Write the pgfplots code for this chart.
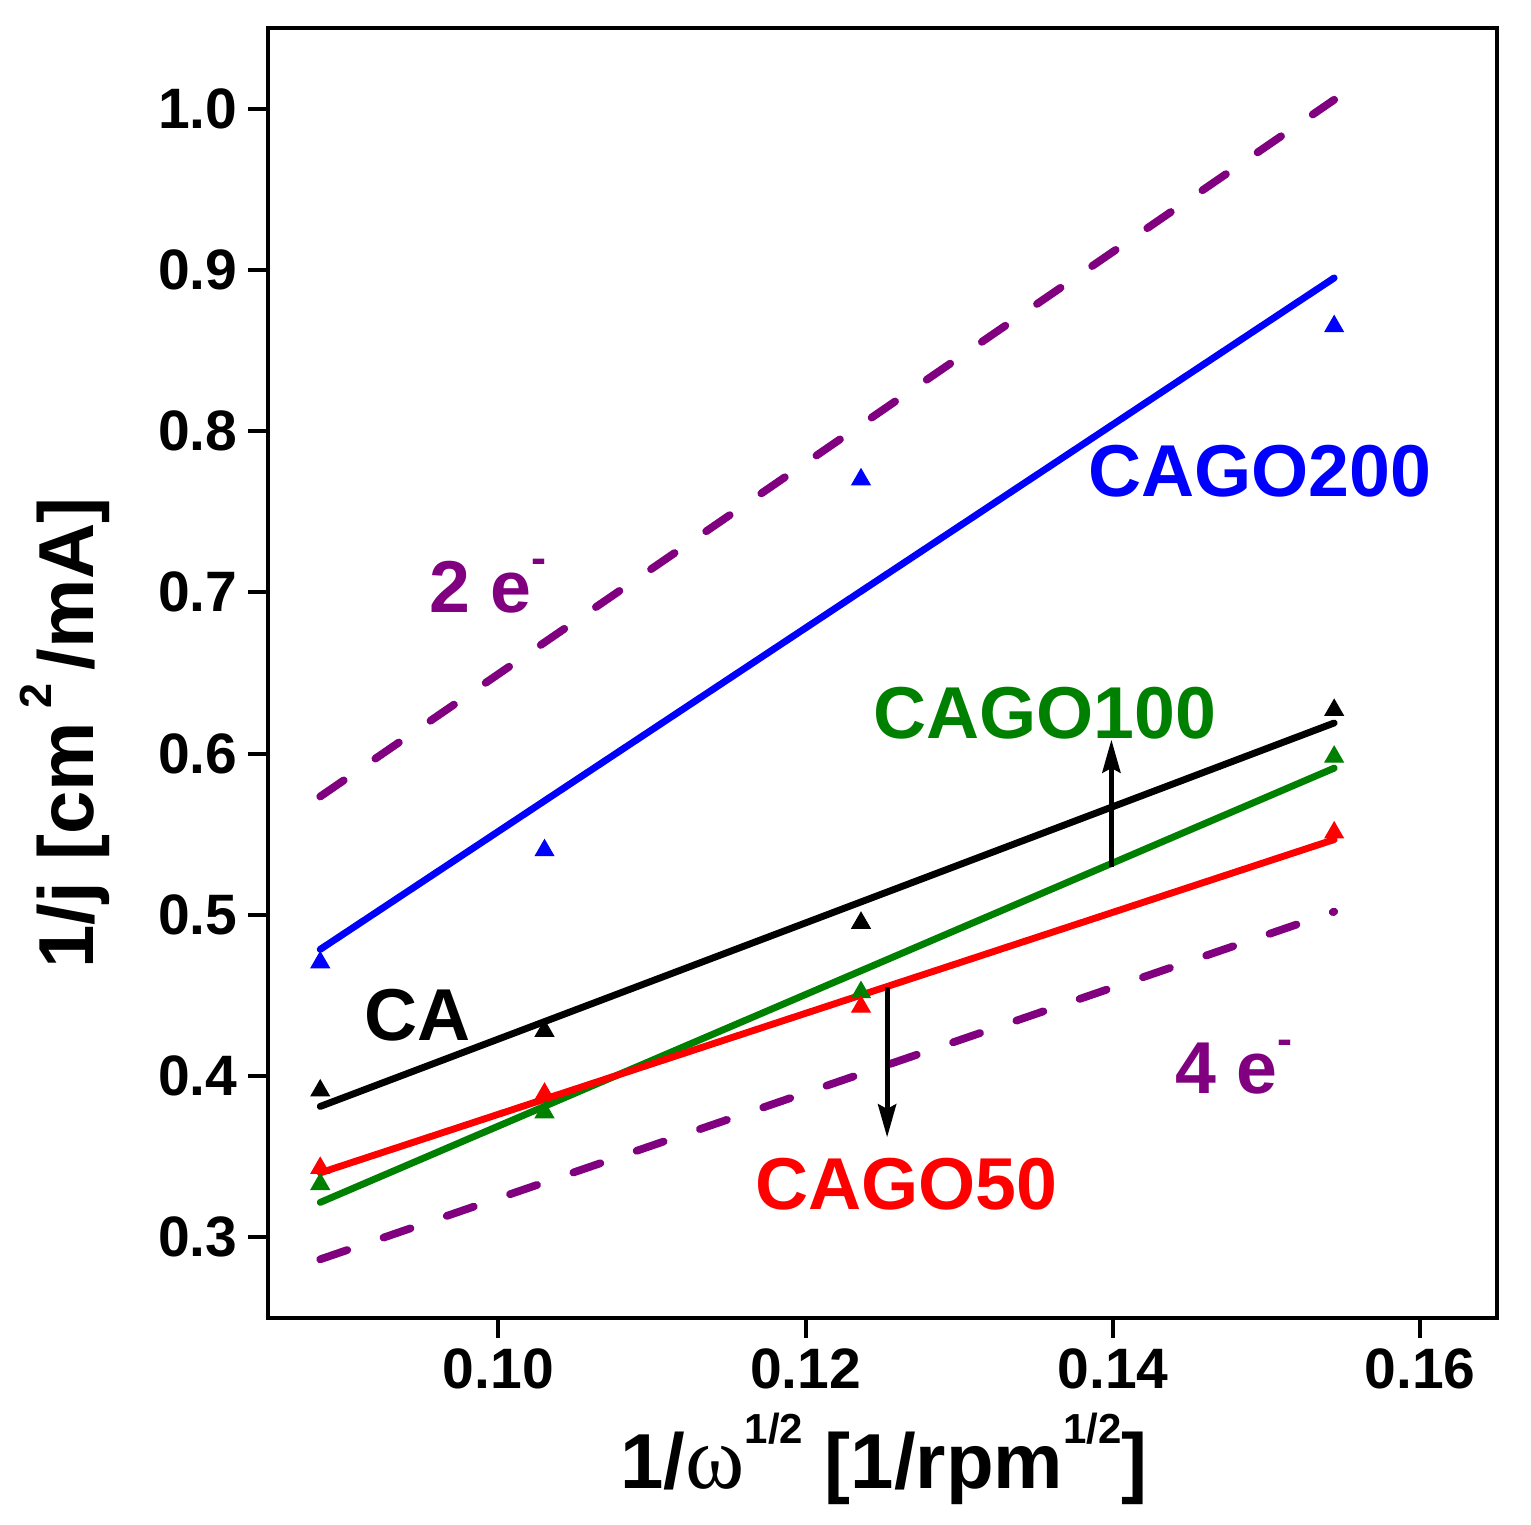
\documentclass[border=0pt]{standalone}
\usepackage{fontspec}
\setmainfont{Liberation Sans}
\newfontfamily\serifgreek{Liberation Serif}
\usepackage{pgfplots}
\pgfplotsset{compat=1.18}
\usetikzlibrary{arrows.meta}
\definecolor{cpurple}{RGB}{128,0,128}
\definecolor{cgreen}{RGB}{0,128,0}
\newcommand{\sups}[3]{\raisebox{#2}{\fontsize{#1}{#1}\selectfont #3}}
\begin{document}
\begin{tikzpicture}
\path[use as bounding box] (-89.33pt,-68.67pt) rectangle (421pt,439.33pt);
\begin{axis}[
  at={(0,0)}, anchor=south west,
  scale only axis, width=409.67pt, height=430pt,
  xmin=0.085, xmax=0.165, ymin=0.25, ymax=1.05,
  clip=false,
  axis line style={line width=1.33pt},
  every tick/.style={line width=1.33pt, black},
  major tick length=6.67pt,
  tick align=outside,
  tick pos=left,
  xtick={0.10,0.12,0.14,0.16},
  xticklabels={0.10,0.12,0.14,0.16},
  ytick={0.3,0.4,0.5,0.6,0.7,0.8,0.9,1.0},
  yticklabels={0.3,0.4,0.5,0.6,0.7,0.8,0.9,1.0},
  tick label style={font=\fontsize{19}{22}\selectfont\bfseries},
]
% markers
\addplot[only marks, mark=triangle*, mark size=3.5pt, cgreen] coordinates {(0.0884,0.333)(0.1030,0.3775)(0.1236,0.452)(0.1544,0.598)};
\addplot[only marks, mark=triangle*, mark size=3.5pt, red] coordinates {(0.0884,0.343)(0.1030,0.389)(0.1236,0.443)(0.1544,0.551)};
\addplot[only marks, mark=triangle*, mark size=3.5pt, black] coordinates {(0.0884,0.391)(0.1030,0.428)(0.1236,0.495)(0.1544,0.627)};
\addplot[only marks, mark=triangle*, mark size=3.5pt, blue] coordinates {(0.0884,0.4705)(0.1030,0.540)(0.1236,0.770)(0.1544,0.865)};
% fit lines
\addplot[cgreen, line width=2.3pt, line cap=round] coordinates {(0.0884,0.3217)(0.1544,0.591)};
\addplot[red, line width=2.3pt, line cap=round] coordinates {(0.0884,0.340)(0.1544,0.5467)};
\addplot[black, line width=2.3pt, line cap=round] coordinates {(0.0884,0.3812)(0.1544,0.619)};
\addplot[blue, line width=2.3pt, line cap=round] coordinates {(0.0884,0.4786)(0.1544,0.895)};
% theoretical lines
\addplot[cpurple, line width=2.6pt, line cap=round, dash pattern=on 9.5pt off 12.8pt] coordinates {(0.0884,0.5734)(0.1544,1.0055)};
\addplot[cpurple, line width=2.6pt, line cap=round, dash pattern=on 9.5pt off 12.8pt] coordinates {(0.0884,0.2864)(0.1544,0.502)};
% arrows
\draw[-{Stealth[length=11pt,width=6pt,inset=1.5pt]}, line width=1.7pt] (axis cs:0.1399,0.53) -- (axis cs:0.1399,0.6087);
\draw[-{Stealth[length=11pt,width=6pt,inset=1.5pt]}, line width=1.7pt] (axis cs:0.1253,0.455) -- (axis cs:0.1253,0.362);
% labels
\node[text=blue, font=\fontsize{24.5}{28}\selectfont\bfseries] at (axis cs:0.14956,0.7749) {CAGO200};
\node[text=cgreen, font=\fontsize{24.5}{28}\selectfont\bfseries] at (axis cs:0.13558,0.6249) {CAGO100};
\node[text=black, font=\fontsize{24.5}{28}\selectfont\bfseries] at (axis cs:0.09473,0.4376) {CA};
\node[text=red, font=\fontsize{24.5}{28}\selectfont\bfseries] at (axis cs:0.12654,0.3329) {CAGO50};
\node[anchor=base west, inner sep=0pt, text=cpurple, font=\fontsize{24.5}{28}\selectfont\bfseries] at (axis cs:0.09545,0.6875) {2 e\sups{15pt}{13pt}{-}};
\node[anchor=base west, inner sep=0pt, text=cpurple, font=\fontsize{24.5}{28}\selectfont\bfseries] at (axis cs:0.14403,0.3890) {4 e\sups{15pt}{13pt}{-}};
% axis labels
\node[anchor=base, inner sep=0pt, font=\fontsize{26}{30}\selectfont\bfseries] at (rel axis cs:0.5012,-0.1318) {1/{\serifgreek\mdseries\fontsize{30}{30}\selectfont ω}\sups{14pt}{15pt}{1/2} [1/rpm\sups{14pt}{15pt}{1/2}]};
\node[anchor=base, inner sep=0pt, rotate=90, font=\fontsize{26}{30}\selectfont\bfseries] at (rel axis cs:-0.1416,0.4535) {1/j [cm\,\sups{15pt}{14pt}{2}\,/mA]};
\end{axis}
\end{tikzpicture}
\end{document}
